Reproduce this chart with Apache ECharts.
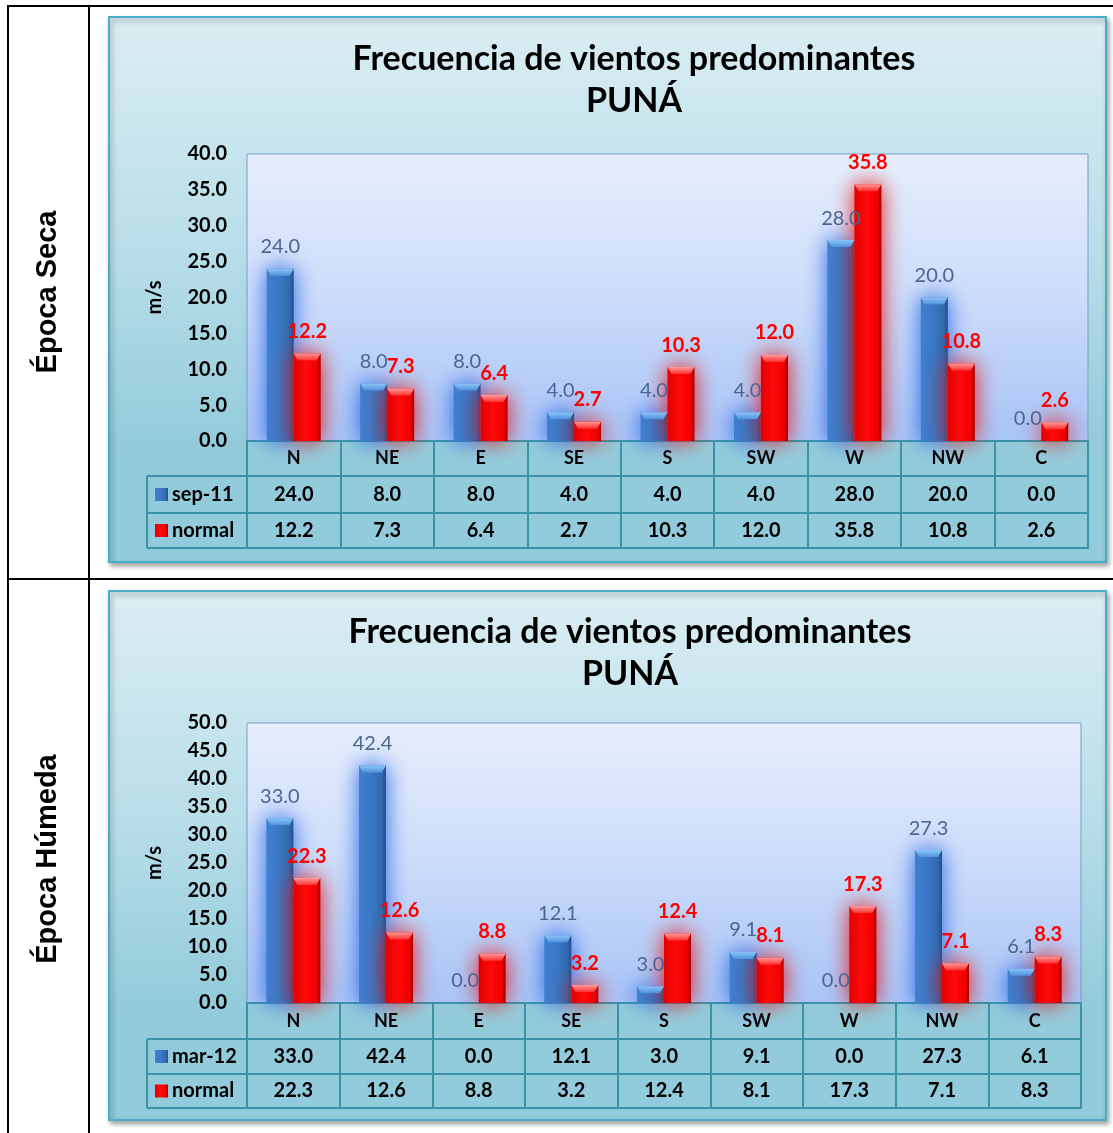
<!DOCTYPE html>
<html>
<head>
<meta charset="utf-8">
<script src="https://cdn.jsdelivr.net/npm/echarts@6/dist/echarts.min.js"></script>
<style>
  html, body { margin: 0; padding: 0; background: #ffffff; }
  #chart { width: 1113px; height: 1133px; }
</style>
</head>
<body>
<div id="chart"></div>
<script>
// Wind direction categories (shared by both panels)
const categories = ['N', 'NE', 'E', 'SE', 'S', 'SW', 'W', 'NW', 'C'];

// Dry season: September 2011 vs. normal
const sep11 = [24.0, 8.0, 8.0, 4.0, 4.0, 4.0, 28.0, 20.0, 0.0];
const normalSeca = [12.2, 7.3, 6.4, 2.7, 10.3, 12.0, 35.8, 10.8, 2.6];

// Wet season: March 2012 vs. normal
const mar12 = [33.0, 42.4, 0.0, 12.1, 3.0, 9.1, 0.0, 27.3, 6.1];
const normalHumeda = [22.3, 12.6, 8.8, 3.2, 12.4, 8.1, 17.3, 7.1, 8.3];

// Value axis ranges
const yMaxSeca = 40;
const yMaxHumeda = 50;
const yStep = 5;

const titleLines = ['Frecuencia de vientos predominantes', 'PUNÁ'];
const seasonLabels = ['Época Seca', 'Época Húmeda'];

const FONT = 'Lato, "Open Sans", sans-serif';
const TEAL = '#3b93a7';
const BAR_W = 27;

const panels = [
  {
    season: seasonLabels[0], seriesNames: ['sep-11', 'normal'], data: [sep11, normalSeca], yMax: yMaxSeca,
    panel: { x: 109, y: 17, w: 997, h: 545 },
    grid: { left: 247, top: 154, width: 841, height: 287 },
    rows: [35, 37, 35], titleX: 629, titleTop: 33, seasonY: 292
  },
  {
    season: seasonLabels[1], seriesNames: ['mar-12', 'normal'], data: [mar12, normalHumeda], yMax: yMaxHumeda,
    panel: { x: 109, y: 591, w: 997, h: 529 },
    grid: { left: 247, top: 723, width: 834, height: 280 },
    rows: [36, 35, 34], titleX: 625, titleTop: 606, seasonY: 859
  }
];

function vGrad(stops) {
  return new echarts.graphic.LinearGradient(0, 0, 0, 1, stops.map(c => ({ offset: c[0], color: c[1] })));
}
function hGrad(stops) {
  return new echarts.graphic.LinearGradient(0, 0, 1, 0, stops.map(c => ({ offset: c[0], color: c[1] })));
}

const blueFill = hGrad([[0, '#3f80d0'], [0.45, '#3b78c6'], [0.85, '#3168ae'], [1, '#244f88']]);
const redFill = hGrad([[0, '#e00000'], [0.45, '#ff0a0a'], [0.85, '#f00000'], [1, '#a80000']]);
const blueCap = vGrad([[0, '#8cc4f6'], [1, '#4f92de']]);
const redCap = vGrad([[0, '#ff9a9a'], [1, '#ff3030']]);
// Bevelled top face drawn on each bar
const capPath = 'path://M0,0 L27,0 L23,7 L4,7 Z';

const option = {
  animation: false,
  title: [], grid: [], xAxis: [], yAxis: [], series: [], legend: [],
  graphic: { elements: [] }
};
const G = option.graphic.elements;

// Outer table frame and row divider
G.push(
  { type: 'line', z: 50, shape: { x1: 8, y1: 6, x2: 1113, y2: 6 }, style: { stroke: '#000', lineWidth: 2 } },
  { type: 'line', z: 50, shape: { x1: 8, y1: 5, x2: 8, y2: 1133 }, style: { stroke: '#000', lineWidth: 2 } },
  { type: 'line', z: 50, shape: { x1: 89, y1: 5, x2: 89, y2: 1133 }, style: { stroke: '#000', lineWidth: 2 } },
  { type: 'line', z: 50, shape: { x1: 8, y1: 579, x2: 1113, y2: 579 }, style: { stroke: '#000', lineWidth: 2 } }
);

panels.forEach((p, k) => {
  const gb = p.grid.top + p.grid.height;
  const xBase = k * 4;

  // Season label in the left column
  G.push({
    type: 'text', x: 48, y: p.seasonY, rotation: Math.PI / 2, z: 50,
    style: { text: p.season, font: 'bold 29px "Liberation Sans", Arial, sans-serif', fill: '#000', align: 'center', verticalAlign: 'middle' }
  });

  // Chart panel background
  G.push({
    type: 'rect', z: -10,
    shape: { x: p.panel.x, y: p.panel.y, width: p.panel.w, height: p.panel.h },
    style: {
      fill: vGrad([[0, '#dbeef3'], [0.45, '#b6dde8'], [0.78, '#93cbdb'], [1, '#92cbdb']]),
      stroke: '#4bacc6', lineWidth: 2,
      shadowBlur: 5, shadowOffsetX: 2, shadowOffsetY: 3, shadowColor: 'rgba(0,0,0,0.35)'
    }
  });

  // Legend cell lines of the data table
  const y1 = gb + p.rows[0];
  const y2 = y1 + p.rows[1];
  const y3 = y2 + p.rows[2];
  [y1, y2, y3].forEach(yy => {
    G.push({ type: 'line', z: 5, shape: { x1: 147, y1: yy, x2: p.grid.left, y2: yy }, style: { stroke: TEAL, lineWidth: 2 } });
  });
  G.push({ type: 'line', z: 5, shape: { x1: 147, y1: y1, x2: 147, y2: y3 }, style: { stroke: TEAL, lineWidth: 2 } });

  option.title.push({
    text: titleLines.join('\n'),
    left: p.titleX, top: p.titleTop, textAlign: 'center',
    textStyle: { fontFamily: FONT, fontWeight: 'bold', fontSize: 34, lineHeight: 42, color: '#000' }
  });

  option.grid.push({
    left: p.grid.left, top: p.grid.top, width: p.grid.width, height: p.grid.height,
    show: true, borderColor: '#7b9bc8', borderWidth: 1,
    backgroundColor: vGrad([[0, '#e6eefc'], [0.5, '#cbdcfa'], [1, '#a7c3f6']])
  });

  option.yAxis.push({
    type: 'value', gridIndex: k, min: 0, max: p.yMax, interval: yStep,
    name: 'm/s', nameLocation: 'middle', nameGap: 82, nameRotate: 90,
    nameTextStyle: { fontFamily: FONT, fontWeight: 'bold', fontSize: 20, color: '#000' },
    axisLine: { show: false }, axisTick: { show: false }, splitLine: { show: false },
    axisLabel: { margin: 20, fontFamily: FONT, fontWeight: 'bold', fontSize: 20, color: '#000', formatter: v => v.toFixed(1) }
  });

  // Data table rows: categories, then one row per series
  const rowValues = [null, p.data[0], p.data[1]];
  let off = 0;
  [0, 1, 2].forEach(r => {
    option.xAxis.push({
      type: 'category', gridIndex: k, data: categories, position: 'bottom', offset: off,
      axisLine: { show: true, lineStyle: { color: TEAL, width: 2 } },
      axisTick: { show: true, length: p.rows[r], interval: 0, lineStyle: { color: TEAL, width: 2 } },
      axisLabel: {
        interval: 0, margin: p.rows[r] / 2, verticalAlign: 'middle',
        fontFamily: FONT, fontWeight: 'bold', fontSize: r === 0 ? 18 : 20, color: '#000',
        formatter: r === 0 ? (v => v) : ((v, i) => rowValues[r][i].toFixed(1))
      },
      splitLine: { show: false }
    });
    off += p.rows[r];
  });
  // Bottom edge of the data table
  option.xAxis.push({
    type: 'category', gridIndex: k, data: categories, position: 'bottom', offset: off,
    axisLine: { show: true, lineStyle: { color: TEAL, width: 2 } },
    axisTick: { show: false }, axisLabel: { show: false }
  });

  option.series.push({
    name: p.seriesNames[0], type: 'bar', xAxisIndex: xBase, yAxisIndex: k,
    data: p.data[0], barWidth: BAR_W, barGap: '0%', clip: false,
    itemStyle: { color: blueFill, shadowBlur: 22, shadowColor: 'rgba(40,100,230,1)' },
    label: {
      show: true, position: 'top', distance: 12, formatter: q => q.value.toFixed(1),
      fontFamily: FONT, fontSize: 20, color: '#4a6591'
    }
  });
  option.series.push({
    name: p.seriesNames[1], type: 'bar', xAxisIndex: xBase, yAxisIndex: k,
    data: p.data[1], barWidth: BAR_W, barGap: '0%', clip: false,
    itemStyle: { color: redFill, shadowBlur: 22, shadowColor: 'rgba(235,20,20,1)' },
    label: {
      show: true, position: 'top', distance: 12, formatter: q => q.value.toFixed(1),
      fontFamily: FONT, fontWeight: 'bold', fontSize: 20, color: '#ff0000'
    }
  });

  // Bevelled caps on top of each bar
  [blueCap, redCap].forEach((cap, s) => {
    option.series.push({
      type: 'pictorialBar', xAxisIndex: xBase, yAxisIndex: k,
      data: p.data[s].map(v => ({ value: v, symbolSize: v > 0 ? [BAR_W, 7] : [0, 0] })),
      barWidth: BAR_W, barGap: '0%', symbol: capPath, symbolPosition: 'end',
      symbolRepeat: false, z: 3, silent: true, legendHoverLink: false,
      itemStyle: { color: cap }, label: { show: false }, tooltip: { show: false }
    });
  });

  // Legend entries in the table's left column
  const r1c = y1 + p.rows[1] / 2;
  const r2c = y2 + p.rows[2] / 2;
  [r1c, r2c].forEach((c, i) => {
    option.legend.push({
      data: [p.seriesNames[i]], left: 155, top: c - 10, padding: 0,
      icon: 'rect', itemWidth: 13, itemHeight: 13, itemGap: 0,
      textStyle: { fontFamily: FONT, fontWeight: 'bold', fontSize: 20, lineHeight: 20, color: '#000', padding: [0, 0, 0, -1] },
      selectedMode: false
    });
  });
});

const chart = echarts.init(document.getElementById('chart'));
chart.setOption(option);
</script>
</body>
</html>
